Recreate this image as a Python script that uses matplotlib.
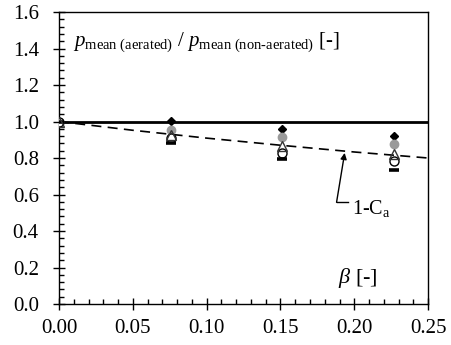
import matplotlib
matplotlib.use("Agg")
import matplotlib.pyplot as plt
from matplotlib.ticker import MultipleLocator, FormatStrFormatter

plt.rcParams['font.family'] = ['Liberation Serif', 'DejaVu Serif']
plt.rcParams['mathtext.fontset'] = 'custom'
plt.rcParams['mathtext.rm'] = 'Liberation Serif'
plt.rcParams['mathtext.it'] = 'Liberation Serif:italic'

# air concentration beta and mean pressure ratios per series
beta = [0.0, 0.0757, 0.1513, 0.2272]
ratio_diamond = [1.0, 1.005, 0.960, 0.921]
ratio_gray = [1.0, 0.955, 0.913, 0.877]
ratio_triangle = [1.0, 0.926, 0.866, 0.822]
ratio_open = [1.0, 0.908, 0.826, 0.784]
ratio_dash = [1.0, 0.884, 0.793, 0.734]

# reference curve 1 - Ca
curve_beta = [0.0, 0.05, 0.10, 0.15, 0.20, 0.25]
curve_ratio = [1.0, 0.952, 0.909, 0.870, 0.833, 0.800]

fig = plt.figure(figsize=(4.51, 3.45), dpi=100)
ax = fig.add_axes([0.1308, 0.1188, 0.8184, 0.8464])

ax.plot([0.0, 0.25], [1.0, 1.0], color='black', lw=2.0, zorder=2)
ax.plot(curve_beta, curve_ratio, color='black', lw=1.2, dashes=(6, 3.8), zorder=2)

ax.plot(beta, ratio_diamond, ls='none', marker='D', ms=4.5, color='black', zorder=3)
ax.plot(beta, ratio_gray, ls='none', marker='o', ms=6, color='#9a9a9a', zorder=3)
ax.plot(beta, ratio_triangle, ls='none', marker='^', ms=6.5, mfc='none', mec='#333333', mew=1.0, zorder=4)
ax.plot(beta, ratio_open, ls='none', marker='o', ms=6.5, mfc='white', mec='black', mew=1.0, zorder=3)
ax.plot(beta, ratio_dash, ls='none', marker='_', ms=6.5, mew=2.6, color='black', zorder=3)

ax.set_xlim(0, 0.25)
ax.set_ylim(0, 1.6)
ax.xaxis.set_major_locator(MultipleLocator(0.05))
ax.xaxis.set_minor_locator(MultipleLocator(0.01))
ax.yaxis.set_major_locator(MultipleLocator(0.2))
ax.yaxis.set_minor_locator(MultipleLocator(0.04))
ax.xaxis.set_major_formatter(FormatStrFormatter('%.2f'))
ax.yaxis.set_major_formatter(FormatStrFormatter('%.1f'))
ax.tick_params(which='major', direction='inout', length=9, width=1.0, labelsize=15)
ax.tick_params(axis='x', which='major', pad=6.5)
ax.tick_params(axis='y', which='major', pad=10)
ax.tick_params(which='minor', direction='in', length=3.5, width=1.0)
ax.tick_params(top=False, right=False, which='both')
for s in ax.spines.values():
    s.set_linewidth(1.0)

ax.text(0.0095, 1.436,
        r'$p_{\mathrm{mean\ (aerated)}}$ / $p_{\mathrm{mean\ (non\text{-}aerated)}}$ [-]',
        fontsize=15, va='center', ha='left')
ax.text(0.189, 0.142, r'$\beta$ [-]', fontsize=16, va='center', ha='left')

ax.annotate('', xy=(0.1935, 0.828), xytext=(0.188, 0.557),
            arrowprops=dict(arrowstyle='-|>', color='black', lw=1.0,
                            mutation_scale=9, shrinkA=0, shrinkB=0))
ax.plot([0.188, 0.1958], [0.557, 0.557], color='black', lw=1.0)
ax.text(0.1985, 0.525, r'1-C$_{\mathrm{a}}$', fontsize=14.5, va='center', ha='left')

fig.savefig('out.png', dpi=100)
